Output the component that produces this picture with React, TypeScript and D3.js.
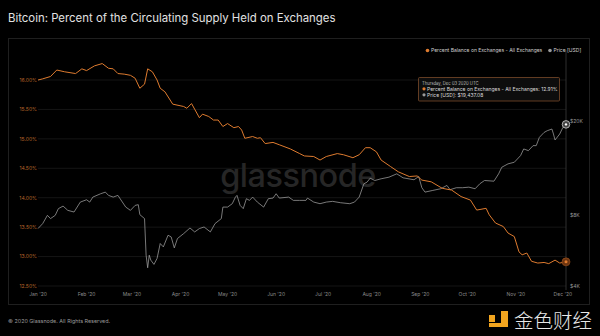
import React from "react";
import * as d3 from "d3";

// Percent balance on exchanges (days since 2020-01-01, value %)
const pctDay = [0, 3, 8, 12, 17, 24, 28, 31, 36, 41, 45, 48, 51, 55, 59, 62, 65, 68, 70, 73, 76, 78, 81, 86, 93, 95, 98, 103, 105, 109, 112, 115, 118, 121, 125, 128, 130, 132, 137, 140, 142, 145, 150, 154, 161, 167, 170, 176, 180, 184, 191, 195, 201, 205, 209, 212, 216, 219, 225, 230, 237, 242, 245, 251, 258, 264, 270, 276, 280, 286, 288, 292, 297, 300, 304, 307, 309, 312, 315, 319, 323, 326, 330, 333, 337];
const pctVal = [16.0, 16.02, 16.06, 16.17, 16.14, 16.11, 16.19, 16.16, 16.24, 16.28, 16.2, 16.19, 16.11, 16.1, 16.08, 16.03, 15.86, 15.93, 16.19, 16.14, 16.0, 15.86, 15.8, 15.59, 15.55, 15.52, 15.6, 15.36, 15.42, 15.38, 15.32, 15.32, 15.21, 15.26, 15.19, 15.21, 15.15, 15.01, 15.04, 15.01, 15.02, 14.92, 14.94, 14.9, 14.83, 14.75, 14.71, 14.7, 14.64, 14.7, 14.75, 14.73, 14.68, 14.73, 14.85, 14.85, 14.78, 14.64, 14.53, 14.44, 14.36, 14.37, 14.3, 14.27, 14.16, 14.13, 14.02, 13.96, 13.79, 13.82, 13.71, 13.57, 13.51, 13.4, 13.34, 13.08, 13.03, 13.06, 12.92, 12.89, 12.9, 12.88, 12.94, 12.89, 12.91];

// BTC price in USD (days since 2020-01-01)
const priceDay = [0, 3, 6, 8, 11, 13, 16, 19, 23, 27, 31, 33, 35, 40, 43, 45, 48, 51, 56, 59, 62, 64, 65, 68, 69, 70, 71, 72, 74, 76, 78, 80, 83, 85, 87, 89, 93, 97, 100, 103, 106, 110, 113, 117, 118, 121, 124, 126, 127, 129, 131, 133, 135, 137, 140, 144, 147, 150, 152, 154, 160, 163, 167, 171, 172, 176, 180, 184, 188, 193, 199, 202, 205, 208, 210, 212, 215, 219, 224, 229, 233, 240, 243, 245, 247, 252, 257, 261, 263, 267, 271, 275, 279, 282, 285, 291, 294, 296, 300, 304, 308, 310, 313, 316, 318, 320, 323, 325, 328, 329, 330, 333, 335, 337];
const priceVal = [7015, 7365, 7985, 7733, 7985, 8524, 8740, 8383, 8248, 9089, 9300, 9089, 9545, 9863, 10020, 9705, 9545, 9705, 8656, 8383, 8800, 8862, 8040, 7733, 5408, 4781, 5408, 5151, 4941, 5239, 6060, 5863, 6572, 6463, 5807, 6363, 6681, 7056, 6788, 7015, 7125, 6788, 7365, 7733, 8656, 8656, 8948, 9545, 9705, 8800, 8524, 9396, 9242, 9545, 9089, 8656, 9396, 9453, 9863, 9453, 9545, 9242, 9242, 9242, 9453, 9089, 8948, 9089, 9153, 9036, 8948, 9089, 9545, 10872, 11045, 11481, 11227, 11416, 11598, 11983, 11525, 11308, 11673, 10460, 10020, 10188, 10356, 10696, 10260, 10460, 10460, 10520, 10356, 10872, 11227, 11151, 11983, 12776, 13212, 13420, 14320, 15284, 15036, 15788, 15788, 17116, 17964, 18268, 18572, 17692, 16688, 17692, 18864, 19437];

const pctTicks = [12.5, 13.0, 13.5, 14.0, 14.5, 15.0, 15.5, 16.0];
const priceTicks = [4000, 8000, 20000];
const monthTicks = ["2020-01-01", "2020-02-01", "2020-03-01", "2020-04-01", "2020-05-01", "2020-06-01", "2020-07-01", "2020-08-01", "2020-09-01", "2020-10-01", "2020-11-01", "2020-12-01"];

const TITLE = "Bitcoin: Percent of the Circulating Supply Held on Exchanges";
const SERIES_PCT = "Percent Balance on Exchanges - All Exchanges";
const SERIES_PRICE = "Price [USD]";
const TOOLTIP_DATE = "Thursday, Dec 03 2020 UTC";
const FOOTER = "© 2020 Glassnode. All Rights Reserved.";

const ORANGE = "#de7b2f";
const GRAY = "#a0a0a0";
const FONT = "Inter, 'Noto Sans', sans-serif";

const start = new Date(Date.UTC(2020, 0, 1));
const toDate = (d: number) => d3.utcDay.offset(start, d);

export default function App() {
  const x = d3.scaleUtc().domain([start, toDate(337)]).range([38, 566]);
  const yPct = d3.scaleLinear().domain([12.5, 16.5]).range([286, 50.6]);
  const yPrice = d3.scaleLog().domain([4000, 40000]).range([286, 50.6]);

  const pctData = pctDay.map((d, i) => ({ t: toDate(d), v: pctVal[i] }));
  const priceData = priceDay.map((d, i) => ({ t: toDate(d), v: priceVal[i] }));

  const pctLine = d3.line<{ t: Date; v: number }>().x(d => x(d.t)).y(d => yPct(d.v))(pctData) || "";
  const priceLine = d3.line<{ t: Date; v: number }>().x(d => x(d.t)).y(d => yPrice(d.v))(priceData) || "";

  const fmtMonth = d3.utcFormat("%b '%y");
  const lastPct = pctData[pctData.length - 1];
  const lastPrice = priceData[priceData.length - 1];
  const xEnd = x(lastPct.t);

  return (
    <svg width={600} height={336} style={{ position: "absolute", left: 0, top: 0, background: "#000" }} fontFamily={FONT}>
      <rect x={0} y={0} width={600} height={336} fill="#000" />
      <text x={8} y={22} fill="#e2e2e2" fontSize={11.4}>{TITLE}</text>
      <rect x={8.5} y={38.5} width={581} height={266} fill="none" stroke="#1f1f1f" strokeWidth={1} />

      {/* grid */}
      {pctTicks.map(t => (
        <line key={t} x1={38} x2={566} y1={yPct(t)} y2={yPct(t)} stroke="#1a1a1a" strokeWidth={0.8} />
      ))}

      {/* watermark */}
      <text x={298} y={187} textAnchor="middle" fill="#262626" fontSize={32.5} fontWeight={500} letterSpacing={-0.5}>glassnode</text>

      {/* left axis */}
      {pctTicks.map(t => (
        <text key={t} x={37} y={yPct(t) + 1.8} textAnchor="end" fill="#b8652a" fontSize={5}>{t.toFixed(2)}%</text>
      ))}
      {/* right axis */}
      {priceTicks.map(t => (
        <text key={t} x={570} y={yPrice(t) + 1.8} fill="#9a9a9a" fontSize={5}>${t / 1000}K</text>
      ))}
      {/* x axis */}
      {monthTicks.map(m => {
        const dt = new Date(m + "T00:00:00Z");
        return (
          <text key={m} x={x(dt)} y={296} textAnchor="middle" fill="#8a8a8a" fontSize={5}>{fmtMonth(dt)}</text>
        );
      })}

      {/* crosshair */}
      <line x1={xEnd} x2={xEnd} y1={50} y2={290} stroke="#3a3a3a" strokeWidth={0.8} />

      {/* series */}
      <path d={priceLine} fill="none" stroke={GRAY} strokeWidth={0.75} strokeLinejoin="round" />
      <path d={pctLine} fill="none" stroke={ORANGE} strokeWidth={1} strokeLinejoin="round" />

      {/* end markers */}
      <circle cx={x(lastPrice.t)} cy={yPrice(lastPrice.v)} r={3.8} fill="#444" stroke="#ccc" strokeWidth={0.8} />
      <circle cx={x(lastPrice.t)} cy={yPrice(lastPrice.v)} r={1.2} fill="#fff" />
      <circle cx={x(lastPct.t)} cy={yPct(lastPct.v)} r={4} fill="#6b3410" stroke="#a0521c" strokeWidth={0.6} />
      <circle cx={x(lastPct.t)} cy={yPct(lastPct.v)} r={1.5} fill={ORANGE} />

      {/* legend */}
      <circle cx={427.5} cy={50.5} r={1.8} fill={ORANGE} />
      <text x={431} y={52.3} fill="#cfcfcf" fontSize={5}>{SERIES_PCT}</text>
      <circle cx={550} cy={50.5} r={1.8} fill="#9a9a9a" />
      <text x={553.5} y={52.3} fill="#cfcfcf" fontSize={5}>{SERIES_PRICE}</text>

      {/* tooltip */}
      <rect x={418.5} y={77.5} width={141} height={23.5} rx={1} fill="#0d0d0d" stroke="#7a4a2a" strokeWidth={0.8} />
      <text x={422} y={84.5} fill="#bdbdbd" fontSize={4.2}>{TOOLTIP_DATE}</text>
      <circle cx={424} cy={88.8} r={1.6} fill={ORANGE} />
      <text x={427} y={90.6} fill="#dcdcdc" fontSize={5}>{SERIES_PCT}: {lastPct.v.toFixed(2)}%</text>
      <circle cx={424} cy={94.8} r={1.6} fill="#9a9a9a" />
      <text x={427} y={96.6} fill="#dcdcdc" fontSize={5}>{SERIES_PRICE}: ${d3.format(",.2f")(lastPrice.v + 0.08)}</text>

      {/* footer */}
      <text x={8} y={323} fill="#9a9a9a" fontSize={5.4}>{FOOTER}</text>

      {/* 金色财经 logo */}
      <g fill="#f2a51f">
        <rect x={489} y={315} width={6} height={7} />
        <rect x={501} y={311} width={7} height={16} />
        <rect x={489} y={323} width={19} height={4} />
      </g>
      <text x={514} y={328} fill="#e8e8e8" fontSize={19.5} fontFamily="'Noto Sans CJK SC', sans-serif" fontWeight={300}>金色财经</text>
    </svg>
  );
}
